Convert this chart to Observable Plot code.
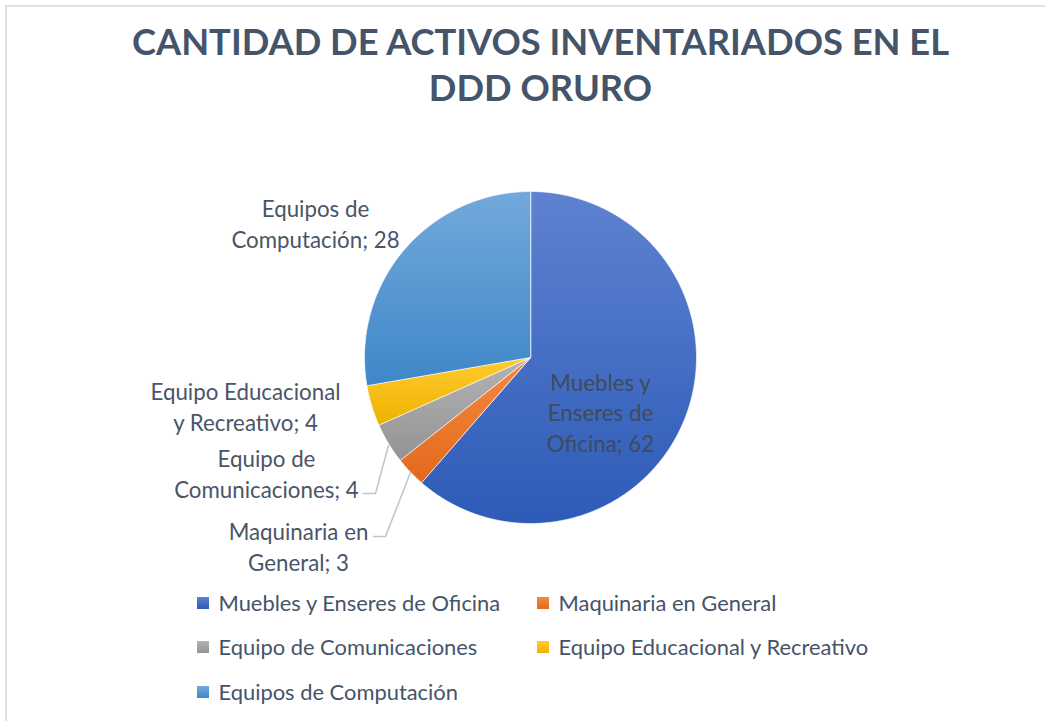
<!DOCTYPE html>
<html><head><meta charset="utf-8">
<script src="https://cdn.jsdelivr.net/npm/d3@7"></script>
<script src="https://cdn.jsdelivr.net/npm/@observablehq/plot@0.6"></script>
<style>body{margin:0;background:#fff;}</style>
</head><body><div id="chart"></div>
<script>
// ---- data ----
const categories = ["Muebles y Enseres de Oficina", "Maquinaria en General", "Equipo de Comunicaciones", "Equipo Educacional y Recreativo", "Equipos de Computación"];
const values = [62, 3, 4, 4, 28];
const labelText = ["Muebles y\nEnseres de\nOficina; 62", "Maquinaria en\nGeneral; 3", "Equipo de\nComunicaciones; 4", "Equipo Educacional\ny Recreativo; 4", "Equipos de\nComputación; 28"];
const titleText = "CANTIDAD DE ACTIVOS INVENTARIADOS EN EL\nDDD ORURO";

// ---- layout & style ----
const W = 1045, H = 721, CX = 530, CY = 357, R = 166;
const gradTop = ["#5E82D0", "#F68A3F", "#B4B4B4", "#FFCB2E", "#72A9DC"];
const gradBottom = ["#2D5BB8", "#E2691C", "#939393", "#EEB200", "#3F87C8"];
const labelPos = [[600, 411], [298, 545], [266, 472], [245, 405], [315, 222]];
const labelColor = ["#3F4A5C", "#4A5568", "#4A5568", "#4A5568", "#4A5568"];
const leaderPts = [
  {k: 1, p: [[410, 472], [385, 536], [373, 536]]},
  {k: 2, p: [[388, 445], [375, 493], [363, 493]]}
];
const legendPos = [[197, 603], [537, 603], [197, 647], [537, 647], [197, 692]];
const titlePos = [540, 63];

const arcs = d3.pie().sort(null)(values);
const slicePts = arcs.map((a, i) => {
  const pts = [{x: CX, y: CY}];
  const n = Math.max(4, Math.ceil((a.endAngle - a.startAngle) / 0.005));
  for (let j = 0; j <= n; j++) {
    const t = a.startAngle + (a.endAngle - a.startAngle) * j / n;
    pts.push({x: CX + R * Math.sin(t), y: CY - R * Math.cos(t)});
  }
  return pts;
});

const marks = [
  Plot.ruleX([5.5], {y1: 5, y2: H, stroke: "#DCE0E8", strokeWidth: 2}),
  Plot.ruleY([5.5], {x1: 5, x2: W, stroke: "#DCE0E8", strokeWidth: 2}),
  Plot.text([titleText], {x: () => titlePos[0], y: () => titlePos[1], text: d => d, fontSize: 36.3, fontWeight: "bold", lineHeight: 1.27, fill: "#44546A", textAnchor: "middle"})
];
slicePts.forEach((pts, i) => {
  marks.push(Plot.line(pts, {x: "x", y: "y", fill: `url(#g${i})`, stroke: "#ffffff", strokeWidth: 1, strokeOpacity: 0.7, curve: "linear-closed"}));
});
leaderPts.forEach(l => {
  marks.push(Plot.line(l.p, {x: d => d[0], y: d => d[1], stroke: "#BCC4D2", strokeWidth: 1.5}));
});
marks.push(Plot.text(categories.map((c, i) => i), {
  x: i => labelPos[i][0], y: i => labelPos[i][1], text: i => labelText[i],
  fill: i => labelColor[i], fontSize: 22.3, lineHeight: 1.37, textAnchor: "middle"
}));
categories.forEach((c, i) => {
  marks.push(Plot.rect([i], {x1: () => legendPos[i][0], x2: () => legendPos[i][0] + 12, y1: () => legendPos[i][1] - 6, y2: () => legendPos[i][1] + 6, fill: `url(#g${i})`}));
});
marks.push(Plot.text(categories, {x: (d, i) => legendPos[i][0] + 21, y: (d, i) => legendPos[i][1], text: d => d, fontSize: 21.9, fill: "#44546A", textAnchor: "start"}));

const chart = Plot.plot({
  width: W, height: H, margin: 0,
  x: {domain: [0, W], range: [0, W], axis: null},
  y: {domain: [0, H], range: [0, H], axis: null},
  style: {fontFamily: "Lato, sans-serif", background: "#fff"},
  marks
});
const svg = d3.select(chart);
const defs = svg.insert("defs", ":first-child");
gradTop.forEach((c, i) => {
  const g = defs.append("linearGradient").attr("id", `g${i}`).attr("x1", 0).attr("y1", 0).attr("x2", 0).attr("y2", 1);
  g.append("stop").attr("offset", "0%").attr("stop-color", c);
  g.append("stop").attr("offset", "100%").attr("stop-color", gradBottom[i]);
});
document.getElementById("chart").appendChild(chart);
</script>
</body></html>
